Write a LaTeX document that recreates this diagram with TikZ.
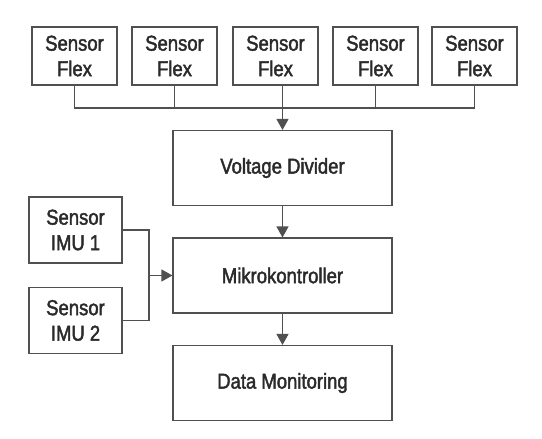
\documentclass[tikz,border=0pt]{standalone}
\usepackage{xcolor}
\usepackage{fontspec}
\setmainfont[FakeStretch=0.86, FakeBold=2]{Liberation Sans}
\usetikzlibrary{arrows.meta}
\definecolor{linegray}{HTML}{505050}
\definecolor{textgray}{HTML}{2A2A2A}

\begin{document}
\begin{tikzpicture}[x=1pt, y=-1pt,
  box/.style={draw=linegray, line width=1.1pt, text=textgray, inner sep=0pt,
    align=center, font=\fontsize{21.5}{25.5}\selectfont},
  flexbox/.style={box, minimum width=85pt, minimum height=58pt},
  imubox/.style={box, minimum width=93pt, minimum height=66pt},
  mainbox/.style={box, minimum width=219pt, minimum height=75pt},
  wire/.style={draw=linegray, line width=1.1pt},
  flow/.style={wire, -{Triangle[width=12pt, length=11pt]}}]
\useasboundingbox (0,0) rectangle (542,439);
\node[flexbox] (flex1) at (74.5,56) {Sensor\\Flex};
\node[flexbox] (flex2) at (174.5,56) {Sensor\\Flex};
\node[flexbox] (flex3) at (275.5,56) {Sensor\\Flex};
\node[flexbox] (flex4) at (375.5,56) {Sensor\\Flex};
\node[flexbox] (flex5) at (474.5,56) {Sensor\\Flex};
\node[mainbox] (divider) at (282.5,168) {Voltage Divider};
\node[mainbox] (mcu) at (282.5,275.5) {Mikrokontroller};
\node[mainbox] (monitor) at (282.5,383) {Data Monitoring};
\node[imubox] (imu1) at (75.5,230) {Sensor\\IMU 1};
\node[imubox] (imu2) at (75.5,320.5) {Sensor\\IMU 2};
\coordinate (bus) at (0,108);
\coordinate (join) at (149,275.5);
% flex sensors onto one line
\draw[wire] (flex1.south) -- (flex1.south |- bus) -- (flex5.south |- bus) -- (flex5.south);
\draw[wire] (flex2.south) -- (flex2.south |- bus);
\draw[wire] (flex4.south) -- (flex4.south |- bus);
\draw[flow] (divider.north |- flex3.south) -- (divider.north);
\draw[flow] (divider) -- (mcu);
\draw[flow] (mcu) -- (monitor);
\draw[wire] (imu1.east) -| (join) |- (imu2.east);
\draw[flow] (join) -- (mcu.west);
\end{tikzpicture}
\end{document}
